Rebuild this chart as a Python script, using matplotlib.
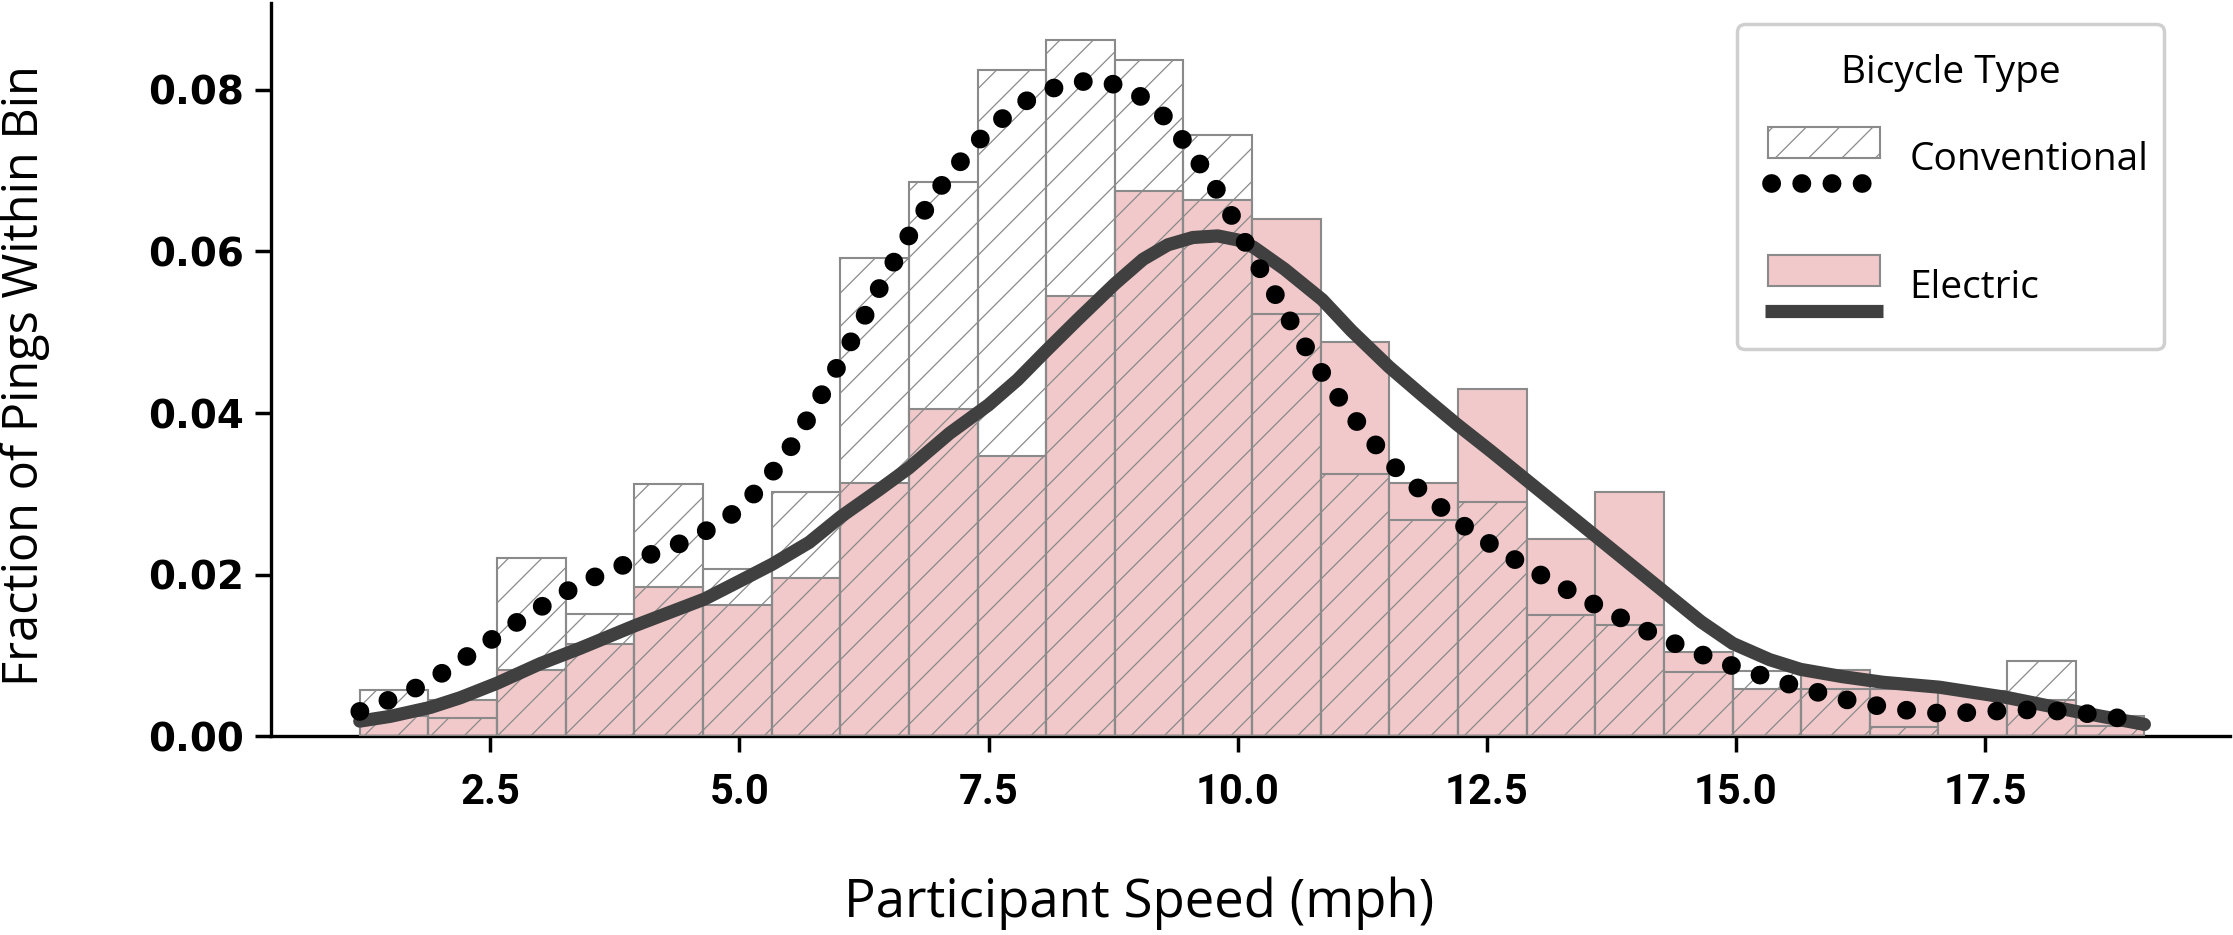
import numpy as np
import matplotlib.pyplot as plt
from matplotlib.legend_handler import HandlerBase
from matplotlib.patches import Rectangle
from matplotlib.lines import Line2D

# histogram bins (mph)
speed_min = 1.19
speed_max = 19.10
n_bins = 26

# fraction of pings per bin
conventional_frac = [0.0058, 0.0023, 0.0221, 0.0151, 0.0312, 0.0207, 0.0302, 0.0592,
                     0.0686, 0.0824, 0.0861, 0.0837, 0.0744, 0.0522, 0.0325, 0.0268,
                     0.0290, 0.0150, 0.0138, 0.0080, 0.0081, 0.0059, 0.0012, 0.0000,
                     0.0093, 0.0013]
electric_frac = [0.0025, 0.0045, 0.0082, 0.0114, 0.0185, 0.0162, 0.0196, 0.0313,
                 0.0405, 0.0347, 0.0545, 0.0674, 0.0663, 0.0640, 0.0488, 0.0313,
                 0.0430, 0.0244, 0.0302, 0.0104, 0.0059, 0.0082, 0.0059, 0.0056,
                 0.0045, 0.0025]

# smoothed density curves
conv_kde_x = [1.19, 1.48, 1.77, 2.04, 2.29, 2.55, 2.80, 3.06, 3.33, 3.61, 3.90, 4.19,
              4.48, 4.75, 5.01, 5.22, 5.42, 5.59, 5.74, 5.90, 6.05, 6.20, 6.34, 6.49,
              6.64, 6.80, 6.97, 7.16, 7.36, 7.58, 7.82, 8.10, 8.40, 8.70, 8.99, 9.23,
              9.43, 9.61, 9.78, 9.94, 10.08, 10.23, 10.39, 10.54, 10.70, 10.87, 11.05,
              11.23, 11.43, 11.63, 11.86, 12.10, 12.35, 12.61, 12.87, 13.15, 13.42,
              13.69, 13.97, 14.25, 14.54, 14.83, 15.12, 15.41, 15.70, 16.01, 16.32,
              16.62, 16.93, 17.24, 17.55, 17.86, 18.17, 18.48, 18.79, 19.10]
conv_kde_y = [0.0031, 0.0045, 0.0061, 0.0080, 0.0101, 0.0123, 0.0144, 0.0164, 0.0184,
              0.0201, 0.0215, 0.0229, 0.0242, 0.0260, 0.0282, 0.0310, 0.0340, 0.0372,
              0.0405, 0.0438, 0.0473, 0.0506, 0.0540, 0.0573, 0.0607, 0.0639, 0.0672,
              0.0702, 0.0732, 0.0758, 0.0782, 0.0800, 0.0810, 0.0809, 0.0795, 0.0771,
              0.0741, 0.0710, 0.0678, 0.0644, 0.0610, 0.0577, 0.0544, 0.0511, 0.0478,
              0.0445, 0.0413, 0.0384, 0.0354, 0.0326, 0.0302, 0.0277, 0.0253, 0.0232,
              0.0212, 0.0192, 0.0174, 0.0156, 0.0139, 0.0122, 0.0107, 0.0093, 0.0081,
              0.0069, 0.0059, 0.0048, 0.0040, 0.0034, 0.0029, 0.0029, 0.0031, 0.0033,
              0.0032, 0.0029, 0.0024, 0.0016]

elec_kde_x = [1.19, 1.50, 1.90, 2.20, 2.57, 3.00, 3.40, 3.95, 4.65, 5.00, 5.33, 5.70,
              6.02, 6.40, 6.70, 7.11, 7.50, 7.79, 8.07, 8.39, 8.77, 9.05, 9.30, 9.55,
              9.80, 10.00, 10.16, 10.47, 10.85, 11.14, 11.52, 11.87, 12.20, 12.55,
              12.89, 13.22, 13.59, 13.94, 14.28, 14.65, 14.97, 15.34, 15.65, 16.07,
              16.48, 17.04, 17.73, 18.41, 19.10]
elec_kde_y = [0.0019, 0.0025, 0.0036, 0.0048, 0.0066, 0.0090, 0.0109, 0.0137, 0.0170,
              0.0192, 0.0213, 0.0240, 0.0272, 0.0305, 0.0332, 0.0375, 0.0410, 0.0441,
              0.0476, 0.0515, 0.0560, 0.0590, 0.0608, 0.0617, 0.0619, 0.0614, 0.0605,
              0.0578, 0.0540, 0.0502, 0.0457, 0.0420, 0.0386, 0.0352, 0.0318, 0.0285,
              0.0248, 0.0213, 0.0179, 0.0142, 0.0115, 0.0095, 0.0083, 0.0074, 0.0067,
              0.0061, 0.0048, 0.0031, 0.0015]

x_ticks = [2.5, 5.0, 7.5, 10.0, 12.5, 15.0, 17.5]
y_ticks = [0.00, 0.02, 0.04, 0.06, 0.08]

PINK = "#f1c9ca"
EDGE = "#8a8a8a"
DARK = "#404040"
DOTS = (0, (0.01, 1.6))

plt.rcParams["hatch.linewidth"] = 0.9


class StackedHandle(HandlerBase):
    # box on top, line underneath, like the original legend
    def create_artists(self, legend, orig_handle, xdescent, ydescent,
                       width, height, fontsize, trans):
        patch, line = orig_handle
        x0 = -xdescent + 0.125 * width
        box = Rectangle((x0, 0.08 * fontsize), -xdescent + width - x0, 0.8 * fontsize)
        box.update_from(patch)
        box.set_transform(trans)
        y = -0.57 * fontsize
        if line.get_linestyle() == "-":
            xs = [-xdescent + 0.1 * width, -xdescent + 1.02 * width]
        else:
            xs = [-xdescent + 0.149 * width, -xdescent + 0.149 * width + 2.35 * fontsize]
        seg = Line2D(xs, [y, y])
        seg.update_from(line)
        seg.set_transform(trans)
        return [box, seg]


edges = np.linspace(speed_min, speed_max, n_bins + 1)
widths = np.diff(edges)

fig = plt.figure(figsize=(22.33, 9.35), dpi=100)
ax = fig.add_axes([0.1214, 0.2123, 0.8773, 0.7845])

ax.bar(edges[:-1], electric_frac, width=widths, align="edge",
       facecolor=PINK, edgecolor=EDGE, linewidth=1.5, zorder=2)
ax.bar(edges[:-1], conventional_frac, width=widths, align="edge",
       facecolor="none", edgecolor=EDGE, hatch="/", linewidth=1.5, zorder=3)

ax.plot(elec_kde_x, elec_kde_y, color=DARK, linewidth=9.5,
        solid_capstyle="round", zorder=4)
ax.plot(conv_kde_x, conv_kde_y, color="black", linewidth=13.5,
        linestyle=DOTS, dash_capstyle="round", zorder=5)

ax.set_xlim(0.30, 19.96)
ax.set_ylim(0, 0.0907)
ax.set_xticks(x_ticks)
ax.set_xticklabels([f"{t:.1f}" for t in x_ticks])
ax.set_yticks(y_ticks)
ax.set_yticklabels([f"{t:.2f}" for t in y_ticks])

for lab in ax.get_xticklabels():
    lab.set_fontfamily("Roboto")
    lab.set_fontweight("bold")
    lab.set_fontsize(30)
for lab in ax.get_yticklabels():
    lab.set_fontfamily("DejaVu Sans")
    lab.set_fontweight("bold")
    lab.set_fontsize(28)

ax.tick_params(axis="both", direction="out", length=11.5, width=2.5, color="black")
ax.tick_params(axis="x", pad=14)
ax.tick_params(axis="y", pad=8)

for side in ["top", "right"]:
    ax.spines[side].set_visible(False)
for side in ["left", "bottom"]:
    ax.spines[side].set_linewidth(2.4)
    ax.spines[side].set_color("black")

ax.set_xlabel("Participant Speed (mph)", fontfamily="Open Sans", fontsize=38)
ax.xaxis.set_label_coords(0.443, -0.191)
ax.set_ylabel("Fraction of Pings Within Bin", fontfamily="Open Sans", fontsize=35)
ax.yaxis.set_label_coords(-0.1128, 0.4915)

conv_box = Rectangle((0, 0), 1, 1, facecolor="white", edgecolor=EDGE, hatch="/", linewidth=1.5)
conv_dots = Line2D([], [], color="black", linewidth=13.5,
                   linestyle=DOTS, dash_capstyle="round")
elec_box = Rectangle((0, 0), 1, 1, facecolor=PINK, edgecolor=EDGE, linewidth=1.5)
elec_line = Line2D([], [], color=DARK, linewidth=9.5, solid_capstyle="butt")

leg = ax.legend(handles=[(conv_box, conv_dots), (elec_box, elec_line)],
                labels=["Conventional", "Electric"],
                handler_map={tuple: StackedHandle()},
                title="Bicycle Type", loc="upper right",
                bbox_to_anchor=(2164 / 2233, 1 - 24 / 935), bbox_transform=fig.transFigure,
                borderaxespad=0, prop={"family": "Open Sans", "size": 28},
                title_fontproperties={"family": "Open Sans", "size": 28},
                handlelength=3.29, handleheight=4.0, handletextpad=0.75,
                labelspacing=0.45, borderpad=0.4, framealpha=1, fancybox=True)
leg.get_frame().set_edgecolor("#cfcfcf")
leg.get_frame().set_linewidth(2.5)
leg.set_zorder(10)
# nudge the texts down a bit inside the frame (pixel offsets)
leg.get_title().set_y(-14)
for t in leg.get_texts():
    t.set_y(-9)

fig.savefig("out.png", dpi=100)
